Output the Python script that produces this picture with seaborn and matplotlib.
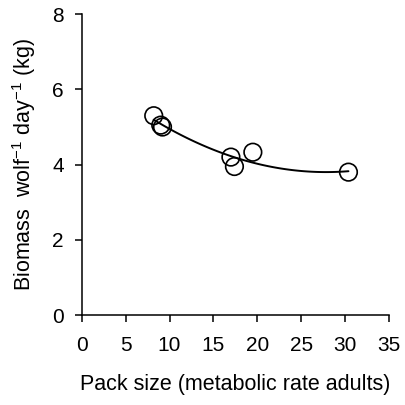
import numpy as np
import pandas as pd
import matplotlib
matplotlib.use('Agg')
import matplotlib.pyplot as plt
import seaborn as sns

sns.set_style('ticks')
plt.rcParams['font.family'] = ['Liberation Sans', 'DejaVu Sans']
plt.rcParams['mathtext.fontset'] = 'custom'
plt.rcParams['mathtext.rm'] = 'Liberation Sans'
plt.rcParams['mathtext.it'] = 'Liberation Sans'
plt.rcParams['text.color'] = 'black'
plt.rcParams['axes.labelcolor'] = 'black'
plt.rcParams['xtick.color'] = 'black'
plt.rcParams['ytick.color'] = 'black'

# pack size vs biomass per wolf per day
pack_size = [8.2, 9.0, 9.2, 17.0, 17.4, 19.5, 30.4]
biomass = [5.3, 5.05, 5.0, 4.2, 3.95, 4.33, 3.8]
x_ticks = [0, 5, 10, 15, 20, 25, 30, 35]
y_ticks = [0, 2, 4, 6, 8]

df = pd.DataFrame({'pack': pack_size, 'biomass': biomass})

fig = plt.figure(figsize=(4.05, 4.05), dpi=100)
ax = fig.add_axes([0.202, 0.222, 0.758, 0.743])

# quadratic trend line
sns.regplot(data=df, x='pack', y='biomass', order=2, ci=None, scatter=False,
            truncate=True, color='black', line_kws={'lw': 1.4}, ax=ax)
sns.scatterplot(data=df, x='pack', y='biomass', s=160, facecolor='none',
                edgecolor='black', linewidth=1.2, ax=ax, zorder=3)

ax.set_xlim(0, 35)
ax.set_ylim(0, 8)
ax.set_xticks(x_ticks)
ax.set_yticks(y_ticks)
ax.tick_params(labelsize=15, length=5, width=1.1, color='black', labelcolor='black')
ax.tick_params(axis='x', pad=10)
ax.tick_params(axis='y', pad=8)
for s in ['left', 'bottom']:
    ax.spines[s].set_linewidth(1.1)
    ax.spines[s].set_color('black')
sns.despine(ax=ax)
ax.set_xlabel('Pack size (metabolic rate adults)', fontsize=15.5, labelpad=14)
ax.set_ylabel('Biomass  wolf$^{-1}$ day$^{-1}$ (kg)', fontsize=15.5, labelpad=10)

fig.savefig('out.png', dpi=100)
